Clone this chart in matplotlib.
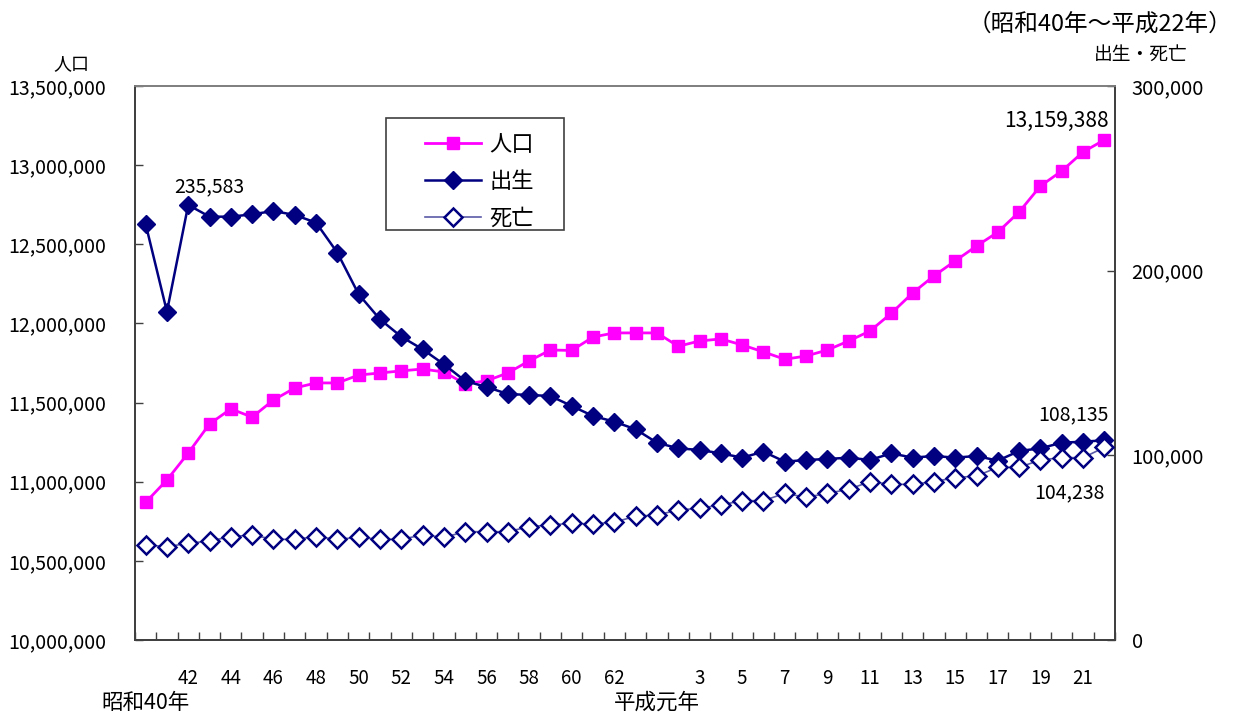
import numpy as np
import matplotlib.pyplot as plt
from matplotlib.ticker import FuncFormatter
from matplotlib.patches import Rectangle

plt.rcParams['font.family'] = ['Noto Sans CJK JP', 'DejaVu Sans']

# 昭和40年(1965) ～ 平成22年(2010)
years = ['S%d' % y for y in range(40, 64)] + ['H%d' % y for y in range(1, 23)]

population = [10869244, 11011000, 11181000, 11365000, 11460000, 11408071,
              11516000, 11592000, 11624000, 11624000, 11673554, 11687000,
              11700000, 11712000, 11693000, 11618281, 11637000, 11687000,
              11763000, 11832000, 11829363, 11914000, 11940000, 11940000,
              11940000, 11855563, 11889000, 11902000, 11864000, 11820000,
              11773605, 11794000, 11832000, 11889000, 11952000, 12064101,
              12192000, 12300000, 12395000, 12489000, 12576601, 12704000,
              12868000, 12963000, 13083000, 13159388]

births = [225270, 177780, 235583, 229230, 229230, 230500, 232310, 230150,
          226000, 209730, 187200, 173660, 164240, 157420, 149300, 140250,
          137000, 133210, 132670, 132130, 126710, 121300, 118210, 114090,
          106840, 103790, 102890, 101080, 98740, 101990, 96570, 97470,
          98010, 98740, 97470, 101080, 98740, 99640, 98740, 99640,
          97110, 102350, 103790, 106840, 107380, 108135]

deaths = [51440, 50540, 52340, 53610, 55940, 56860, 54510, 54510, 55940,
          54510, 55600, 54510, 54510, 56860, 55600, 58650, 58650, 58650,
          61360, 62270, 63180, 62810, 63800, 67000, 67690, 70400, 71300,
          73100, 75430, 75430, 79420, 77270, 79420, 81590, 85730, 84290,
          84290, 85730, 87890, 88810, 93490, 93490, 97470, 98740, 98740,
          104238]

tick_idx = list(range(2, 23, 2)) + list(range(26, 45, 2))
tick_labels = [str(y) for y in range(42, 63, 2)] + [str(y) for y in range(3, 22, 2)]

x = np.arange(len(years))

fig = plt.figure(figsize=(12.36, 7.13), dpi=100)
ax = fig.add_axes([0.1092, 0.1024, 0.7929, 0.7770])
ax2 = ax.twinx()

ax.plot(x, population, color='#FF00FF', lw=2, marker='s', ms=8.5,
        label='人口', zorder=3)
ax2.plot(x, births, color='#000080', lw=1.8, marker='D', ms=9,
         label='出生', zorder=3)
ax2.plot(x, deaths, color='#5A5AA8', lw=1.2, marker='D', ms=9,
         mfc='white', mec='#000080', mew=1.8, label='死亡', zorder=3)

ax.set_xlim(-0.5, len(years) - 0.5)
ax.set_ylim(10000000, 13500000)
ax2.set_ylim(0, 300000)
ax.set_yticks(np.arange(10000000, 13500001, 500000))
ax2.set_yticks([0, 100000, 200000, 300000])
fmt = FuncFormatter(lambda v, p: '{:,.0f}'.format(v))
ax.yaxis.set_major_formatter(fmt)
ax2.yaxis.set_major_formatter(fmt)

ax.set_xticks(tick_idx)
ax.set_xticklabels(tick_labels)
ax.set_xticks(np.arange(-0.5, len(years)), minor=True)
ax.tick_params(axis='x', which='major', length=0, pad=20, labelsize=13.5)
ax.tick_params(axis='x', which='minor', direction='in', length=6, width=1,
               color='#404040')
ax.tick_params(axis='y', direction='in', length=6, width=1, color='#404040',
               labelsize=14, pad=21)
ax2.tick_params(axis='y', direction='in', length=6, width=1, color='#404040',
                labelsize=14.5, pad=12)

for a in (ax, ax2):
    for s in a.spines.values():
        s.set_color('#404040')
        s.set_linewidth(1.3)
    a.spines['top'].set_color('#808080')

trans = ax.get_xaxis_transform()
ax.text(0, -0.113, '昭和40年', transform=trans, ha='center', va='center', fontsize=15.5)
ax.text(24, -0.113, '平成元年', transform=trans, ha='center', va='center', fontsize=15.5)

ax.text(x[2] + 1, 12860000, '235,583', ha='center', va='center', fontsize=14)
ax.text(x[-1] + 0.2, 13280000, '13,159,388', ha='right', va='center', fontsize=15)
ax2.text(x[-1] + 0.2, 122000, '108,135', ha='right', va='center', fontsize=14)
ax2.text(x[-1], 79500, '104,238', ha='right', va='center', fontsize=14)

fig.text(71 / 1236, 1 - 64 / 713, '人口', ha='center', va='center', fontsize=13)
fig.text(1141 / 1236, 1 - 54 / 713, '出生・死亡', ha='center', va='center', fontsize=13.5)
fig.text(1232 / 1236, 1 - 24 / 713, '（昭和40年～平成22年）', ha='right', va='center',
         fontsize=17)

# 凡例（枠は別に描く）
h1, l1 = ax.get_legend_handles_labels()
h2, l2 = ax2.get_legend_handles_labels()
leg = ax2.legend(h1 + h2, l1 + l2, loc='upper left', bbox_to_anchor=(0.296, 0.915),
                 fontsize=16, frameon=False, handlelength=2.5, handletextpad=0.4,
                 borderpad=0, labelspacing=0.63, borderaxespad=0)
ax2.add_patch(Rectangle((0.2561, 0.7401), 0.1817, 0.2021, transform=ax2.transAxes,
                        fill=False, edgecolor='#404040', linewidth=1.2, zorder=5))

fig.savefig('out.png', dpi=100)
